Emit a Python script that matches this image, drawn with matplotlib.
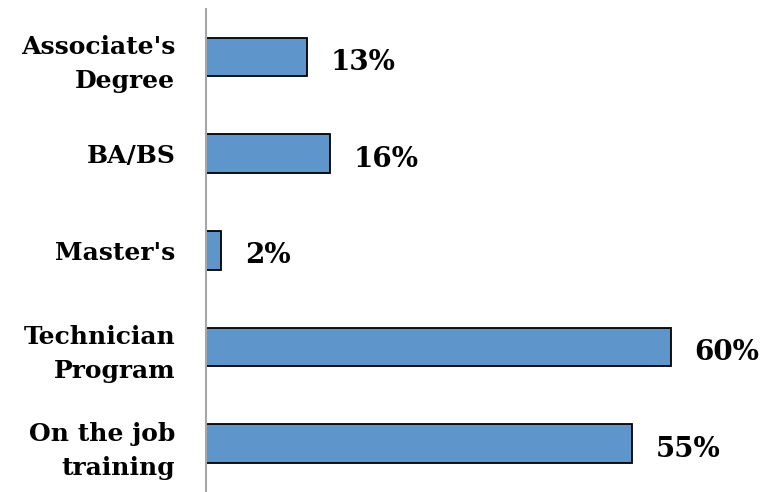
import matplotlib
matplotlib.use("Agg")
import matplotlib.pyplot as plt

categories = ["Associate's\nDegree", "BA/BS", "Master's", "Technician\nProgram", "On the job\ntraining"]
values = [13, 16, 2, 60, 55]
labels = ["13%", "16%", "2%", "60%", "55%"]

plt.rcParams['font.family'] = ['DejaVu Serif']

fig = plt.figure(figsize=(7.64, 4.92), dpi=100)
ax = fig.add_axes([0.2696, 0.0, 0.7094, 0.9827])

pos = list(range(len(categories)))
ax.barh(pos, values, height=0.4, color='#5E95CA', edgecolor='black', linewidth=1.3)
ax.set_ylim(len(categories) - 0.5, -0.5)
ax.set_xlim(0, 70)

for p, v, t in zip(pos, values, labels):
    ax.annotate(t, (v, p), xytext=(17, -4), textcoords='offset points',
                ha='left', va='center', fontsize=20, fontweight='bold')

ax.set_yticks(pos)
ax.set_yticklabels(categories, fontsize=18, fontweight='bold', linespacing=1.5)
ax.tick_params(axis='y', length=0, pad=22)
ax.set_xticks([])
for s in ['top', 'right', 'bottom']:
    ax.spines[s].set_visible(False)
ax.spines['left'].set_color('#A6A6A6')
ax.spines['left'].set_linewidth(1.5)

fig.savefig("out.png", dpi=100)
